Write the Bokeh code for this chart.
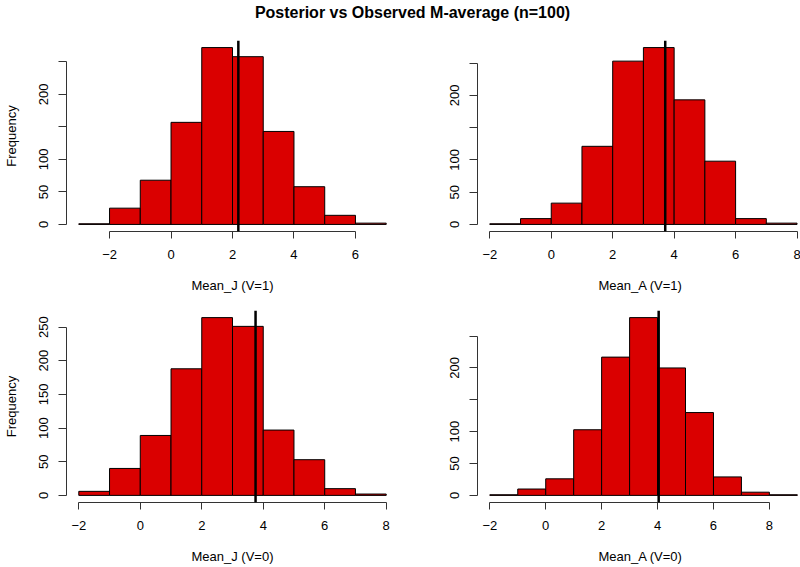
from bokeh.plotting import figure
from bokeh.layouts import column, row
from bokeh.models import Range1d, FixedTicker, Span, Label
from bokeh.embed import file_html
from bokeh.resources import INLINE

# ---------------- data ----------------
title_text = "Posterior vs Observed M-average (n=100)"

edges_j1 = [-3, -2, -1, 0, 1, 2, 3, 4, 5, 6, 7]
counts_j1 = [1, 25, 68, 157, 272, 258, 143, 58, 14, 2]
obs_j1 = 2.19
xticks_j1 = [-2, 0, 2, 4, 6]
xlabel_j1 = "Mean_J (V=1)"

edges_a1 = [-2, -1, 0, 1, 2, 3, 4, 5, 6, 7, 8]
counts_a1 = [1, 9, 33, 121, 253, 274, 193, 98, 9, 2]
obs_a1 = 3.71
xticks_a1 = [-2, 0, 2, 4, 6, 8]
xlabel_a1 = "Mean_A (V=1)"

edges_j0 = [-2, -1, 0, 1, 2, 3, 4, 5, 6, 7, 8]
counts_j0 = [6, 40, 89, 188, 264, 251, 97, 53, 10, 2]
obs_j0 = 3.75
xticks_j0 = [-2, 0, 2, 4, 6, 8]
xlabel_j0 = "Mean_J (V=0)"

edges_a0 = [-2, -1, 0, 1, 2, 3, 4, 5, 6, 7, 8, 9]
counts_a0 = [1, 10, 26, 103, 217, 279, 200, 130, 29, 5, 1]
obs_a0 = 4.04
xticks_a0 = [-2, 0, 2, 4, 6, 8]
xlabel_a0 = "Mean_A (V=0)"

yticks = [0, 50, 100, 150, 200, 250]
ylabel = "Frequency"

# ---------------- style ----------------
FONT = "Liberation Sans"
RED = "#DA0000"
AXIS_COL = "#333333"


def padded(edges, right_end=None):
    span = edges[-1] - edges[0]
    lo = edges[0] - 0.04 * span
    hi = edges[-1] + 0.04 * span if right_end is None else right_end
    return lo, hi


def panel(edges, counts, obs, xticks, xlabel, xr, show_ylabel, hidden_yticks,
          fw, fh, mbl, mbr, mbt, mbb):
    top = max(counts)
    p = figure(frame_width=fw, frame_height=fh,
               x_range=Range1d(*xr), y_range=Range1d(-0.04 * top, 1.04 * top),
               output_backend="svg", toolbar_location=None,
               min_border_left=mbl, min_border_right=mbr,
               min_border_top=mbt, min_border_bottom=mbb)
    p.quad(left=edges[:-1], right=edges[1:], bottom=0, top=counts,
           fill_color=RED, line_color="black", line_width=1)
    p.add_layout(Span(location=obs, dimension="height",
                      line_color="black", line_width=2.5))
    p.grid.visible = False
    p.outline_line_color = None
    p.background_fill_color = "white"
    p.border_fill_color = "white"

    xa = p.xaxis[0]
    xa.ticker = FixedTicker(ticks=xticks)
    xa.bounds = (xticks[0], xticks[-1])
    xa.axis_label = xlabel
    ya = p.yaxis[0]
    ya.ticker = FixedTicker(ticks=yticks)
    ya.bounds = (yticks[0], yticks[-1])
    ya.major_label_orientation = "vertical"
    ya.major_label_overrides = {t: "" for t in hidden_yticks}
    ya.axis_label = ylabel if show_ylabel else None

    for ax, out, stand in ((xa, 7, 11), (ya, 8, 10)):
        ax.axis_line_color = AXIS_COL
        ax.major_tick_line_color = AXIS_COL
        ax.minor_tick_line_color = None
        ax.major_tick_in = 0
        ax.major_tick_out = out
        ax.major_label_standoff = stand
        ax.major_label_text_font = FONT
        ax.major_label_text_font_size = "13px"
        ax.major_label_text_color = "black"
        ax.axis_label_text_font = FONT
        ax.axis_label_text_font_size = "13px"
        ax.axis_label_text_font_style = "normal"
        ax.axis_label_text_color = "black"
    xa.axis_label_standoff = 16
    ya.axis_label_standoff = 18
    return p


LW, RW, FH_T, FH_B = 332, 326, 191, 192

p1 = panel(edges_j1, counts_j1, obs_j1, xticks_j1, xlabel_j1, padded(edges_j1),
           True, [150, 250], LW, FH_T, 63, 5, 18, 64)
p2 = panel(edges_a1, counts_a1, obs_a1, xticks_a1, xlabel_a1, padded(edges_a1, 8.21),
           False, [150, 250], RW, FH_T, 74, 0, 18, 64)
p3 = panel(edges_j0, counts_j0, obs_j0, xticks_j0, xlabel_j0, padded(edges_j0),
           True, [], LW, FH_B, 63, 5, 15, 64)
p4 = panel(edges_a0, counts_a0, obs_a0, xticks_a0, xlabel_a0, padded(edges_a0, 9.22),
           False, [150, 250], RW, FH_B, 74, 0, 15, 64)

tf = figure(width=800, height=22, output_backend="svg", toolbar_location=None,
            x_axis_type=None, y_axis_type=None, min_border=0,
            x_range=Range1d(0, 1), y_range=Range1d(0, 1))
tf.outline_line_color = None
tf.grid.visible = False
tf.add_layout(Label(x=412, y=10, x_units="screen", y_units="screen",
                    text=title_text, text_align="center", text_baseline="alphabetic",
                    text_font=FONT, text_font_size="16px", text_font_style="bold",
                    text_color="black"))

layout = column(tf, row(p1, p2), row(p3, p4))

with open("out.html", "w") as f:
    f.write(file_html(layout, INLINE))
